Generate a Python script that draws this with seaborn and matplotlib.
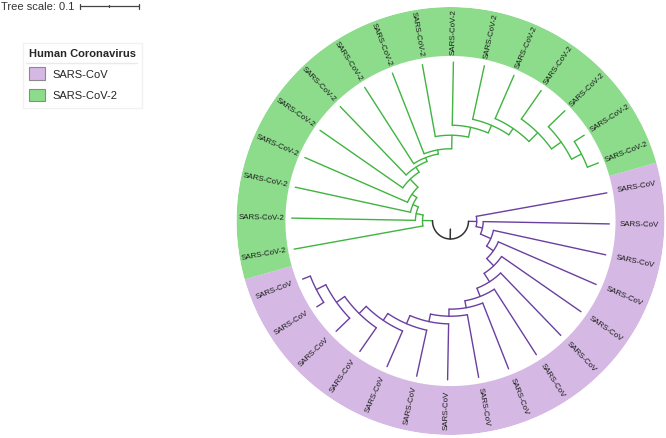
import matplotlib
matplotlib.use("Agg")
import matplotlib.pyplot as plt
import numpy as np
import pandas as pd
import seaborn as sns
from matplotlib.lines import Line2D
from matplotlib.patches import Patch

# clades in clockwise order, starting just above 3 o'clock
clades = ["SARS-CoV", "SARS-CoV-2"]
leaf_counts = [16, 16]
# depth (tree units) of each ladder node inside a clade, root side first
sars_cov_nodes = [0.014, 0.025, 0.044, 0.058, 0.075, 0.092, 0.107, 0.119,
                  0.131, 0.144, 0.159, 0.173, 0.190, 0.207, 0.225]
sars_cov2_nodes = [0.017, 0.029, 0.039, 0.049, 0.068, 0.078, 0.085, 0.092,
                   0.115, 0.132, 0.146, 0.159, 0.180, 0.200, 0.219]
tip_depth = 0.239
tree_scale = 0.1

branch_colors = {"SARS-CoV": "#6a3fa0", "SARS-CoV-2": "#40b440"}
strip_colors = {"SARS-CoV": "#d5b8e3", "SARS-CoV-2": "#8cdc8c"}

sns.set_style("white")
plt.rcParams["font.family"] = ["Liberation Sans", "DejaVu Sans"]

# layout of the circle
W, H = 666, 438
center = (450.5, 221)
radius_px = 214
start = np.deg2rad(10.2)
n_leaves = sum(leaf_counts)
step = -2 * np.pi / n_leaves
root_gap = 0.0305
ring_in, ring_out = 0.28, 0.363
label_r = 0.321

rows = []


def add_seg(clade, th0, th1, r0, r1):
    n = max(2, int(abs(th1 - th0) / 0.01) + 2)
    sid = rows[-1]["seg"] + 1 if rows else 0
    for t, r in zip(np.linspace(th0, th1, n), np.linspace(r0, r1, n)):
        rows.append({"theta": t, "r": r, "seg": sid, "clade": clade})


leaf_angles = {}
clade_roots = {}
offset = 0
for clade, count, depths in zip(clades, leaf_counts, [sars_cov_nodes, sars_cov2_nodes]):
    a = start + step * (offset + np.arange(count))
    offset += count
    leaf_angles[clade] = a
    rn = root_gap + np.array(depths)
    nt = np.zeros(count - 1)
    nt[-1] = (a[-2] + a[-1]) / 2
    for k in range(count - 3, -1, -1):
        nt[k] = (a[k] + nt[k + 1]) / 2
    tip = root_gap + tip_depth
    add_seg(clade, nt[0], nt[0], root_gap, rn[0])
    for k in range(count - 1):
        end = nt[k + 1] if k < count - 2 else a[-1]
        add_seg(clade, a[k], end, rn[k], rn[k])
        add_seg(clade, a[k], a[k], rn[k], tip)
        if k < count - 2:
            add_seg(clade, nt[k + 1], nt[k + 1], rn[k], rn[k + 1])
        else:
            add_seg(clade, a[-1], a[-1], rn[k], tip)
    clade_roots[clade] = nt[0]

df = pd.DataFrame(rows)

fig = plt.figure(figsize=(W / 100, H / 100), dpi=100)
ax = fig.add_axes([(center[0] - radius_px) / W, (H - center[1] - radius_px) / H,
                   2 * radius_px / W, 2 * radius_px / H], projection="polar")

# colour strip
for clade in clades:
    a = leaf_angles[clade]
    ax.bar((a[0] + a[-1]) / 2, ring_out - ring_in, width=abs(a[-1] - a[0]) + abs(step),
           bottom=ring_in, color=strip_colors[clade], linewidth=0)

sns.lineplot(data=df, x="theta", y="r", units="seg", hue="clade", estimator=None,
             sort=False, palette=branch_colors, linewidth=1.0, legend=False, ax=ax)

# root arc with its stub
th_a, th_b = clade_roots["SARS-CoV"], clade_roots["SARS-CoV-2"]
arc = np.linspace(th_a, th_b, 100)
ax.plot(arc, np.full_like(arc, root_gap), color="#333333", lw=1.1)
mid = (th_a + th_b) / 2
ax.plot([mid, mid], [root_gap, root_gap * 0.45], color="#333333", lw=1.1)

# leaf labels
for clade in clades:
    for t in leaf_angles[clade]:
        deg = np.rad2deg(t) % 360
        rot = deg - 180 if 90 < deg < 270 else deg
        ax.text(t, label_r, clade, rotation=rot, rotation_mode="anchor",
                ha="center", va="center", fontsize=5.7, color="#1a1a1a")

ax.set_ylim(0, ring_out)
ax.set_axis_off()

# tree scale
fig.text(1 / W, 1 - 7 / H, "Tree scale: 0.1", fontsize=8, color="#333333", va="center")
bar_px = tree_scale * radius_px / ring_out
x0, y0 = 80, 6
fig.add_artist(Line2D([x0 / W, (x0 + bar_px) / W], [1 - y0 / H] * 2, color="#444444", lw=0.9))
for xe, hh in [(x0, 2.5), (x0 + bar_px, 2.5), (x0 + bar_px / 2, 0.8)]:
    fig.add_artist(Line2D([xe / W] * 2, [1 - (y0 - hh) / H, 1 - (y0 + hh) / H],
                          color="#444444", lw=0.9))

# legend
handles = [Patch(facecolor=strip_colors[c], edgecolor="#8a8a8a", linewidth=0.8, label=c)
           for c in clades]
fig.legend(handles=handles, title="Human Coronavirus", loc="upper left",
           bbox_to_anchor=(23 / W, 1 - 43 / H), frameon=True, fontsize=8,
           title_fontproperties={"weight": "bold", "size": 8}, handlelength=1.4,
           handleheight=1.4, handletextpad=0.7, labelspacing=0.75, borderpad=0.55,
           borderaxespad=0, fancybox=False, edgecolor="#eeeeee", alignment="left")
fig.add_artist(Line2D([26 / W, 137 / W], [1 - 63 / H] * 2, color="#999999", lw=1))

fig.savefig("out.png", dpi=100)
